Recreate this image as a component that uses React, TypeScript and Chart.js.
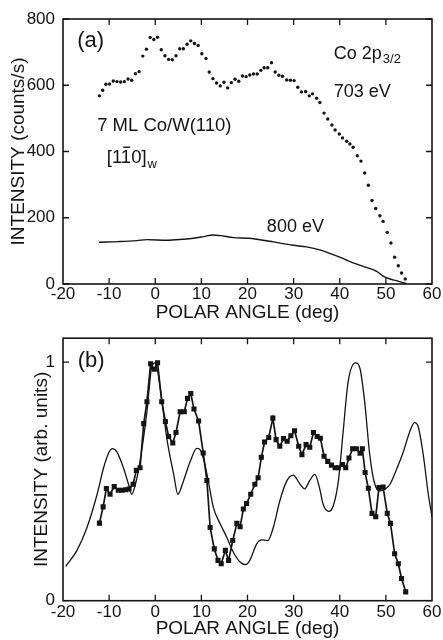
import React, { useEffect, useRef } from "react";
import { Chart, registerables } from "chart.js";
Chart.register(...registerables);

const INK = "#141414";
const FONT = "'Liberation Sans', Arial, sans-serif";

// ---- axis ticks ----
const xTicks = [-20, -10, 0, 10, 20, 30, 40, 50, 60];
const aYTicks = [0, 200, 400, 600, 800];
const bYTicks = [0, 1];

// ---- panel (a): Co 2p3/2, 703 eV (dots) ----
const ang703 = [
  -12.1, -11.4, -10.7, -9.9, -9.1, -8.3, -7.5, -6.7, -5.9, -5.1, -4.3, -3.5, -2.7, -1.9, -1.1, -0.3,
  0.5, 1.3, 2.1, 2.9, 3.7, 4.5, 5.3, 6.1, 6.9, 7.7, 8.5, 9.3, 10.1, 11.0, 11.7, 12.5, 13.3, 14.1,
  14.9, 15.7, 16.5, 17.3, 18.1, 18.9, 19.7, 20.5, 21.3, 22.1, 22.9, 23.6, 24.4, 25.2, 26.0, 26.8,
  27.6, 28.5, 29.3, 30.1, 30.9, 31.7, 32.6, 33.4, 34.1, 35.0, 35.7, 36.6, 37.4, 38.3, 39.0, 39.9,
  40.6, 41.5, 42.2, 42.9, 43.8, 44.6, 45.4, 46.2, 47.0, 47.8, 48.7, 49.4, 50.3, 51.1, 51.9, 52.7,
  53.4, 54.2,
];
const cnt703 = [
  568, 585, 603, 604, 613, 611, 610, 611, 619, 615, 635, 641, 688, 709, 744, 738,
  745, 707, 689, 678, 677, 689, 710, 710, 724, 734, 726, 720, 695, 681, 640, 620, 607, 598,
  609, 592, 608, 618, 612, 628, 626, 631, 634, 634, 645, 653, 653, 668, 640, 630,
  627, 616, 615, 614, 594, 580, 581, 568, 574, 561, 548, 516, 498, 480, 465, 453,
  441, 431, 423, 413, 387, 371, 335, 298, 252, 228, 206, 189, 156, 124, 81, 55,
  33, 15,
];

// ---- panel (a): 800 eV (line) ----
const ang800 = [-12.2, -8, -4, -1.8, 2.5, 6, 8.3, 10.5, 12.5, 14.1, 17, 20.5, 23, 25.6, 29.9, 32.8, 35.7, 37.5, 40, 42.9, 45.8, 48, 49.4, 50.9, 52.3, 53.5, 54.5];
const cnt800 = [126, 128, 131, 134, 132, 135, 138, 143, 148, 146, 140, 138, 133, 127, 117, 112, 103, 94, 81, 64, 50, 38, 24, 15, 10, 5, 1];

// ---- panel (b): experiment (squares) ----
const angExp = [
  -12.1, -11.3, -10.6, -9.8, -8.9, -8.0, -7.2, -6.4, -5.7, -4.8, -4.1, -3.3, -2.5, -1.8, -1.0, -0.2,
  0.5, 1.4, 2.2, 2.9, 3.8, 4.5, 5.4, 6.3, 7.0, 7.7, 8.4, 9.4, 10.4, 11.2, 11.9, 12.8, 13.6, 14.3,
  15.2, 15.9, 16.8, 17.7, 18.4, 19.1, 19.8, 20.7, 21.6, 22.3, 23.0, 23.7, 24.6, 25.5, 26.2, 27.0,
  27.8, 28.6, 29.4, 30.2, 31.1, 31.8, 32.7, 33.5, 34.3, 35.1, 35.8, 36.6, 37.4, 38.2, 39.0, 39.7,
  40.6, 41.3, 42.0, 42.8, 43.6, 44.4, 44.9, 45.5, 46.2, 47.0, 47.8, 48.5, 49.4, 50.3, 51.0, 51.9,
  52.7, 53.4, 54.3,
];
const intExp = [
  0.325, 0.393, 0.47, 0.446, 0.478, 0.463, 0.463, 0.465, 0.468, 0.488, 0.546, 0.557, 0.742, 0.834, 0.993, 0.97,
  0.997, 0.834, 0.751, 0.688, 0.661, 0.705, 0.792, 0.792, 0.848, 0.868, 0.803, 0.753, 0.619, 0.504, 0.307, 0.217, 0.169, 0.155,
  0.211, 0.169, 0.252, 0.324, 0.31, 0.384, 0.407, 0.446, 0.488, 0.515, 0.601, 0.665, 0.684, 0.765, 0.675, 0.647,
  0.679, 0.668, 0.691, 0.712, 0.647, 0.612, 0.654, 0.643, 0.705, 0.688, 0.681, 0.605, 0.584, 0.568, 0.557, 0.557,
  0.571, 0.557, 0.598, 0.637, 0.637, 0.618, 0.637, 0.537, 0.471, 0.366, 0.352, 0.474, 0.476, 0.366, 0.324, 0.197,
  0.155, 0.093, 0.037,
];

// ---- panel (b): theory (thin line) ----
const angThy = [
  -19.4, -17, -14.8, -12.6, -11.2, -10.1, -9.3, -8.3, -6.9, -5.8, -5.1, -4.3, -3.3, -1.8, -0.7, 0,
  1.1, 2.5, 4.0, 4.9, 6.1, 7.6, 9.0, 9.7, 10.6, 11.5, 12.6, 14.1, 15.5, 16.9, 18.4, 19.6, 20.5,
  22.0, 23.0, 24.4, 25.6, 27.0, 28.5, 29.9, 31.4, 32.4, 33.5, 34.6, 35.6, 36.4, 37.6, 38.6, 39.7,
  40.7, 41.8, 43.4, 44.4, 45.4, 46.5, 47.6, 48.9, 49.8, 50.9, 52.3, 53.7, 55.2, 56.2, 57.0, 58.1,
  59.2, 60,
];
const intThy = [
  0.144, 0.21, 0.307, 0.446, 0.557, 0.619, 0.637, 0.623, 0.557, 0.488, 0.446, 0.488, 0.584, 0.792, 0.985, 0.997,
  0.889, 0.681, 0.529, 0.446, 0.501, 0.584, 0.638, 0.633, 0.584, 0.501, 0.391, 0.321, 0.266, 0.204, 0.162, 0.151, 0.169,
  0.238, 0.255, 0.252, 0.307, 0.418, 0.501, 0.526, 0.488, 0.469, 0.504, 0.529, 0.474, 0.404, 0.374, 0.398, 0.501,
  0.7, 0.915, 0.997, 0.972, 0.834, 0.612, 0.488, 0.46, 0.467, 0.488, 0.55, 0.619, 0.709, 0.746, 0.73, 0.612,
  0.446, 0.352,
];

type Note = { t: string; x: number; y: number; size: number; sub?: string; subSize?: number; subDy?: number; bar?: number };

const notesA: Note[] = [
  { t: "(a)", x: -16.9, y: 715, size: 22 },
  { t: "Co 2p", x: 38.7, y: 680, size: 18, sub: "3/2", subSize: 13, subDy: 4.5 },
  { t: "703 eV", x: 38.7, y: 566, size: 18 },
  { t: "7 ML Co/W(110)", x: -12.6, y: 462, size: 18.5 },
  { t: "[110]", x: -10.5, y: 366, size: 18.5, bar: 2, sub: "w", subSize: 13, subDy: 5.5 },
  { t: "800 eV", x: 24.2, y: 158, size: 18 },
];
const notesB: Note[] = [{ t: "(b)", x: -16.8, y: 0.978, size: 22 }];

const framePlugin = {
  id: "frameTicks",
  afterDatasetsDraw(chart: any, _a: any, opts: any) {
    const { ctx, chartArea, scales } = chart;
    const { left, right, top, bottom } = chartArea;
    ctx.save();
    ctx.strokeStyle = INK;
    ctx.lineWidth = 1.6;
    ctx.strokeRect(left, top, right - left, bottom - top);
    ctx.lineWidth = 1.3;
    const L = 6;
    ctx.beginPath();
    for (const v of xTicks) {
      if (v === xTicks[0] || v === xTicks[xTicks.length - 1]) continue;
      const px = scales.x.getPixelForValue(v);
      ctx.moveTo(px, bottom);
      ctx.lineTo(px, bottom - L);
      ctx.moveTo(px, top);
      ctx.lineTo(px, top + L);
    }
    for (const v of opts.yTicks as number[]) {
      const py = scales.y.getPixelForValue(v);
      ctx.moveTo(left, py);
      ctx.lineTo(left + L, py);
      ctx.moveTo(right, py);
      ctx.lineTo(right - L, py);
    }
    ctx.stroke();
    ctx.restore();
  },
};

const notesPlugin = {
  id: "notes",
  afterDraw(chart: any, _a: any, opts: any) {
    const { ctx, scales } = chart;
    ctx.save();
    ctx.fillStyle = INK;
    ctx.textBaseline = "alphabetic";
    ctx.textAlign = "left";
    for (const n of (opts.items || []) as Note[]) {
      const px = scales.x.getPixelForValue(n.x);
      const py = scales.y.getPixelForValue(n.y);
      ctx.font = `${n.size}px ${FONT}`;
      ctx.fillText(n.t, px, py);
      const w = ctx.measureText(n.t).width;
      if (n.bar !== undefined) {
        const a = ctx.measureText(n.t.slice(0, n.bar)).width;
        const b = ctx.measureText(n.t.slice(0, n.bar + 1)).width;
        ctx.fillRect(px + a + 1, py - n.size * 0.716 - 3, b - a - 2, 1.4);
      }
      if (n.sub) {
        ctx.font = `${n.subSize}px ${FONT}`;
        ctx.fillText(n.sub, px + w + 1, py + (n.subDy || 0));
      }
    }
    ctx.restore();
  },
};

function pts(xs: number[], ys: number[]) {
  return xs.map((x, i) => ({ x, y: ys[i] }));
}

function makeOptions(p: {
  yMax: number;
  yTicks: number[];
  yTitle: string;
  yTitlePad: number;
  padTop: number;
  xAxisH: number;
  xTitlePad: number;
  xTickPad: number;
  notes: Note[];
}) {
  return {
    responsive: false,
    animation: false as const,
    layout: { padding: { left: 0, right: 11, top: p.padTop, bottom: 0 } },
    plugins: {
      legend: { display: false },
      tooltip: { enabled: false },
      frameTicks: { yTicks: p.yTicks },
      notes: { items: p.notes },
    },
    scales: {
      x: {
        type: "linear" as const,
        min: -20,
        max: 60,
        afterBuildTicks: (s: any) => {
          s.ticks = xTicks.map((v) => ({ value: v }));
        },
        afterFit: (s: any) => {
          s.height = p.xAxisH;
        },
        grid: { display: false, drawTicks: false },
        border: { display: false },
        ticks: {
          color: INK,
          font: { size: 17, family: FONT },
          padding: p.xTickPad,
          maxRotation: 0,
          autoSkip: false,
          callback: (v: any) => String(v),
        },
        title: {
          display: true,
          text: "POLAR ANGLE (deg)",
          color: INK,
          font: { size: 19, family: FONT },
          padding: { top: 0, bottom: p.xTitlePad },
        },
      },
      y: {
        type: "linear" as const,
        min: 0,
        max: p.yMax,
        afterBuildTicks: (s: any) => {
          s.ticks = p.yTicks.map((v) => ({ value: v }));
        },
        afterFit: (s: any) => {
          s.width = 63;
        },
        grid: { display: false, drawTicks: false },
        border: { display: false },
        ticks: {
          color: INK,
          font: { size: 17, family: FONT },
          padding: 8,
          callback: (v: any) => String(v),
        },
        title: {
          display: true,
          text: p.yTitle,
          color: INK,
          font: { size: 19, family: FONT },
          padding: { top: p.yTitlePad, bottom: 0 },
        },
      },
    },
  };
}

export default function App() {
  const refA = useRef<HTMLCanvasElement>(null);
  const refB = useRef<HTMLCanvasElement>(null);

  useEffect(() => {
    Chart.defaults.font.family = FONT;
    const chartA = new Chart(refA.current as HTMLCanvasElement, {
      type: "scatter",
      data: {
        datasets: [
          {
            data: pts(ang703, cnt703),
            showLine: false,
            pointRadius: 1.7,
            pointBorderWidth: 0,
            pointBackgroundColor: INK,
          },
          {
            data: pts(ang800, cnt800),
            showLine: true,
            borderColor: INK,
            borderWidth: 1.4,
            pointRadius: 0,
            tension: 0.3,
            cubicInterpolationMode: "monotone",
          },
        ],
      },
      options: makeOptions({
        yMax: 800,
        yTicks: aYTicks,
        yTitle: "INTENSITY (counts/s)",
        yTitlePad: 7.6,
        padTop: 19,
        xAxisH: 42,
        xTitlePad: 1.6,
        xTickPad: 0,
        notes: notesA,
      }) as any,
      plugins: [framePlugin, notesPlugin],
    });

    const chartB = new Chart(refB.current as HTMLCanvasElement, {
      type: "scatter",
      data: {
        datasets: [
          {
            data: pts(angThy, intThy),
            showLine: true,
            borderColor: INK,
            borderWidth: 1.3,
            pointRadius: 0,
            cubicInterpolationMode: "monotone",
          },
          {
            data: pts(angExp, intExp),
            showLine: true,
            borderColor: INK,
            borderWidth: 1.7,
            pointStyle: "rect",
            pointRadius: 3.6,
            pointBorderWidth: 0,
            pointBackgroundColor: INK,
            tension: 0,
          },
        ],
      },
      options: makeOptions({
        yMax: 1.1,
        yTicks: bYTicks,
        yTitle: "INTENSITY (arb. units)",
        yTitlePad: 30,
        padTop: 16,
        xAxisH: 39.3,
        xTitlePad: 0,
        xTickPad: 1,
        notes: notesB,
      }) as any,
      plugins: [framePlugin, notesPlugin],
    });

    return () => {
      chartA.destroy();
      chartB.destroy();
    };
  }, []);

  return (
    <div style={{ position: "fixed", left: 0, top: 0, width: 443, height: 640, background: "#fff" }}>
      <canvas ref={refA} width={443} height={326} style={{ position: "absolute", left: 0, top: 0, width: 443, height: 326 }} />
      <canvas ref={refB} width={443} height={320} style={{ position: "absolute", left: 0, top: 320, width: 443, height: 320 }} />
    </div>
  );
}
